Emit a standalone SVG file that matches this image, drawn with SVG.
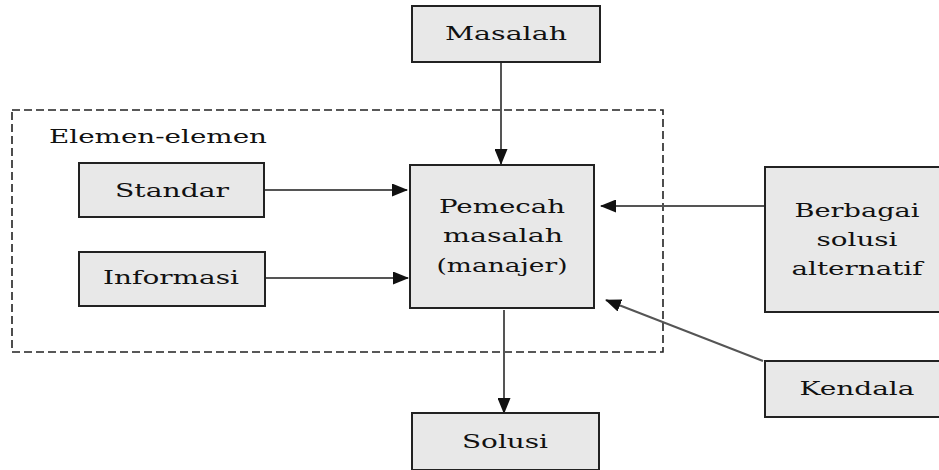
<svg xmlns="http://www.w3.org/2000/svg" width="939" height="470" viewBox="0 0 939 470">
<style>
.box{fill:#e8e8e8;stroke:#222;stroke-width:2}
.t{font-family:"DejaVu Serif","Liberation Serif",serif;font-size:19px;fill:#111;text-anchor:middle}
.c{stroke:#555;stroke-width:2;fill:none}
</style>
<defs>
<marker id="ah" markerUnits="userSpaceOnUse" markerWidth="16" markerHeight="13" refX="15" refY="6.5" orient="auto">
<path d="M0,0 L16,6.5 L0,13 Z" fill="#111"/>
</marker>
</defs>
<rect x="12" y="110" width="651" height="242" fill="none" stroke="#222" stroke-width="1.6" stroke-dasharray="8,4"/>
<text class="t" x="49" y="143" style="text-anchor:start" textLength="218" lengthAdjust="spacingAndGlyphs">Elemen-elemen</text>
<g id="connectors">
<line class="c" x1="501" y1="62" x2="501" y2="164" marker-end="url(#ah)"/>
<line class="c" x1="265" y1="190" x2="407" y2="190" marker-end="url(#ah)"/>
<line class="c" x1="265" y1="278" x2="408" y2="278" marker-end="url(#ah)"/>
<line class="c" x1="765" y1="206" x2="601" y2="206" marker-end="url(#ah)"/>
<line class="c" x1="763" y1="361" x2="606" y2="300" marker-end="url(#ah)"/>
<line class="c" x1="504" y1="310" x2="504" y2="413" marker-end="url(#ah)"/>
</g>
<g id="masalah">
<rect class="box" x="412" y="6" width="188" height="56"/>
<text class="t" x="506" y="40" textLength="122" lengthAdjust="spacingAndGlyphs">Masalah</text>
</g>
<g id="standar">
<rect class="box" x="79" y="163" width="185" height="54"/>
<text class="t" x="172" y="197" textLength="114" lengthAdjust="spacingAndGlyphs">Standar</text>
</g>
<g id="informasi">
<rect class="box" x="79" y="252" width="186" height="54"/>
<text class="t" x="171" y="284" textLength="136" lengthAdjust="spacingAndGlyphs">Informasi</text>
</g>
<g id="pemecah">
<rect class="box" x="410" y="165" width="184" height="143"/>
<text class="t" x="502" y="213" textLength="126" lengthAdjust="spacingAndGlyphs">Pemecah</text>
<text class="t" x="503" y="242" textLength="120" lengthAdjust="spacingAndGlyphs">masalah</text>
<text class="t" x="502" y="272" textLength="131" lengthAdjust="spacingAndGlyphs">(manajer)</text>
</g>
<g id="berbagai">
<rect class="box" x="765" y="167" width="175" height="145"/>
<text class="t" x="857" y="217" textLength="125" lengthAdjust="spacingAndGlyphs">Berbagai</text>
<text class="t" x="857" y="246" textLength="81" lengthAdjust="spacingAndGlyphs">solusi</text>
<text class="t" x="857" y="275" textLength="131" lengthAdjust="spacingAndGlyphs">alternatif</text>
</g>
<g id="kendala">
<rect class="box" x="765" y="361" width="175" height="56"/>
<text class="t" x="857" y="395" textLength="115" lengthAdjust="spacingAndGlyphs">Kendala</text>
</g>
<g id="solusi">
<rect class="box" x="412" y="413" width="187" height="57"/>
<text class="t" x="505" y="448" textLength="86" lengthAdjust="spacingAndGlyphs">Solusi</text>
</g>
</svg>
